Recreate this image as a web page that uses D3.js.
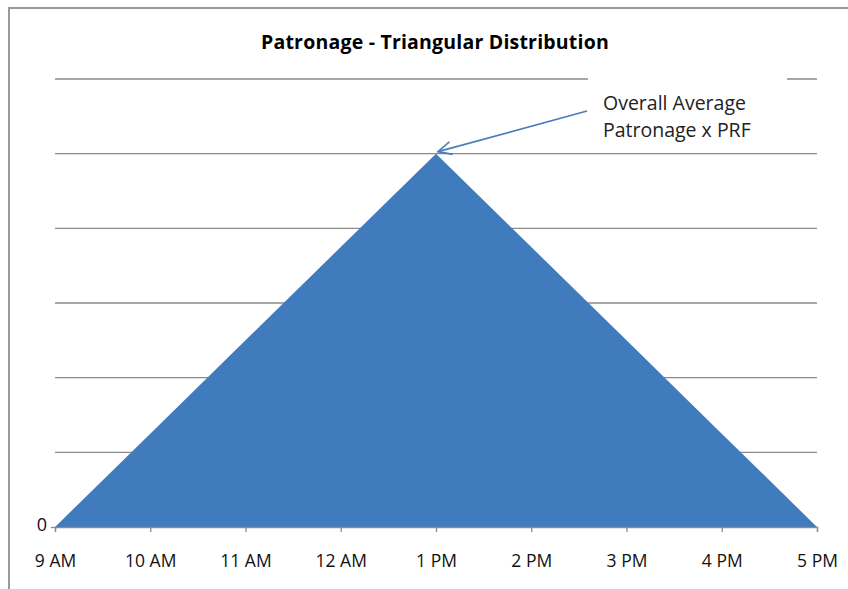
<!DOCTYPE html>
<html>
<head>
<meta charset="utf-8">
<script src="https://cdn.jsdelivr.net/npm/d3@7"></script>
<style>
  html, body { margin: 0; padding: 0; background: #fff; }
  svg { display: block; font-family: "Open Sans", "Noto Sans", sans-serif; }
</style>
</head>
<body>
<svg id="chart" width="848" height="589"></svg>
<script>
// Hourly time slots across the operating day
const hours = ["9 AM", "10 AM", "11 AM", "12 AM", "1 PM", "2 PM", "3 PM", "4 PM", "5 PM"];
// Relative patronage: rises linearly to the peak at 1 PM, then falls back to zero
const patronage = [0, 1.25, 2.5, 3.75, 5, 3.75, 2.5, 1.25, 0];
// Value axis gridline positions; only the zero is labelled
const yTicks = [0, 1, 2, 3, 4, 5, 6];
const yTickLabels = ["0", "", "", "", "", "", ""];
const title = "Patronage - Triangular Distribution";
const noteLines = ["Overall Average", "Patronage x PRF"];
const peakHour = "1 PM";

const svg = d3.select("#chart");
const margin = { left: 55, right: 31, top: 79, bottom: 62 };
const W = 848, H = 589;

const x = d3.scalePoint().domain(hours).range([margin.left, W - margin.right]);
const y = d3.scaleLinear().domain([0, 6]).range([H - margin.bottom, margin.top]);

// Outer chart frame
svg.append("path")
  .attr("d", `M9,${H + 5} L9,8 L${W + 5},8`)
  .attr("fill", "none")
  .attr("stroke", "#9a9a9a")
  .attr("stroke-width", 2);

// Title
svg.append("text")
  .attr("x", 435).attr("y", 49)
  .attr("text-anchor", "middle")
  .attr("font-size", 19.5).attr("font-weight", "bold")
  .attr("letter-spacing", 0.2)
  .attr("fill", "#000")
  .text(title);

// Horizontal gridlines
svg.append("g")
  .selectAll("line")
  .data(yTicks.slice(1))
  .join("line")
  .attr("x1", x.range()[0]).attr("x2", x.range()[1])
  .attr("y1", d => y(d)).attr("y2", d => y(d))
  .attr("stroke", "#8a8a8a").attr("stroke-width", 1.3);

// Triangular area
const area = d3.area()
  .x((d, i) => x(hours[i]))
  .y0(y(0))
  .y1(d => y(d));
svg.append("path")
  .datum(patronage)
  .attr("d", area)
  .attr("fill", "#3f7bbd");

// Category axis
const xAxis = svg.append("g")
  .attr("transform", `translate(0,${y(0)})`)
  .call(d3.axisBottom(x).tickSize(5).tickPadding(23));
xAxis.select(".domain").attr("stroke", "#8a8a8a").attr("stroke-width", 1.3);
xAxis.selectAll(".tick line").attr("stroke", "#8a8a8a").attr("stroke-width", 1.3);
xAxis.selectAll(".tick text").attr("font-size", 17.5).attr("fill", "#111")
  .attr("font-family", "'Open Sans', sans-serif");

// Value axis: a single labelled tick at zero
const yAxis = svg.append("g")
  .attr("transform", `translate(${x.range()[0]},0)`)
  .call(d3.axisLeft(y).tickValues([0]).tickSize(4).tickPadding(4)
    .tickFormat(d => yTickLabels[yTicks.indexOf(d)]));
yAxis.select(".domain").remove();
yAxis.selectAll(".tick line").attr("stroke", "#8a8a8a").attr("stroke-width", 1.3);
yAxis.selectAll(".tick text").attr("font-size", 18).attr("fill", "#111")
  .attr("font-family", "'Open Sans', sans-serif").attr("dy", "0.22em");

// Annotation box (white backing hides the gridline behind the text)
const noteX = 603, noteY = 110;
svg.append("rect")
  .attr("x", 588).attr("y", 74).attr("width", 199).attr("height", 74)
  .attr("fill", "#fff");
svg.append("text")
  .attr("font-size", 19.5).attr("fill", "#222")
  .selectAll("tspan")
  .data(noteLines)
  .join("tspan")
  .attr("x", noteX)
  .attr("y", (d, i) => noteY + i * 27)
  .text(d => d);

// Arrow pointing at the peak
const peakIdx = hours.indexOf(peakHour);
const tipX = x(peakHour) + 2, tipY = y(patronage[peakIdx]) - 2;
const startX = 587, startY = 111;
const ang = Math.atan2(startY - tipY, startX - tipX);
const headLen = 15, spread = 0.45;
svg.append("line")
  .attr("x1", startX).attr("y1", startY).attr("x2", tipX).attr("y2", tipY)
  .attr("stroke", "#4a7ebb").attr("stroke-width", 1.7);
svg.append("path")
  .attr("d", `M${tipX + headLen * Math.cos(ang - spread)},${tipY + headLen * Math.sin(ang - spread)}
              L${tipX},${tipY}
              L${tipX + headLen * Math.cos(ang + spread)},${tipY + headLen * Math.sin(ang + spread)}`)
  .attr("fill", "none")
  .attr("stroke", "#4a7ebb").attr("stroke-width", 1.7);
</script>
</body>
</html>
